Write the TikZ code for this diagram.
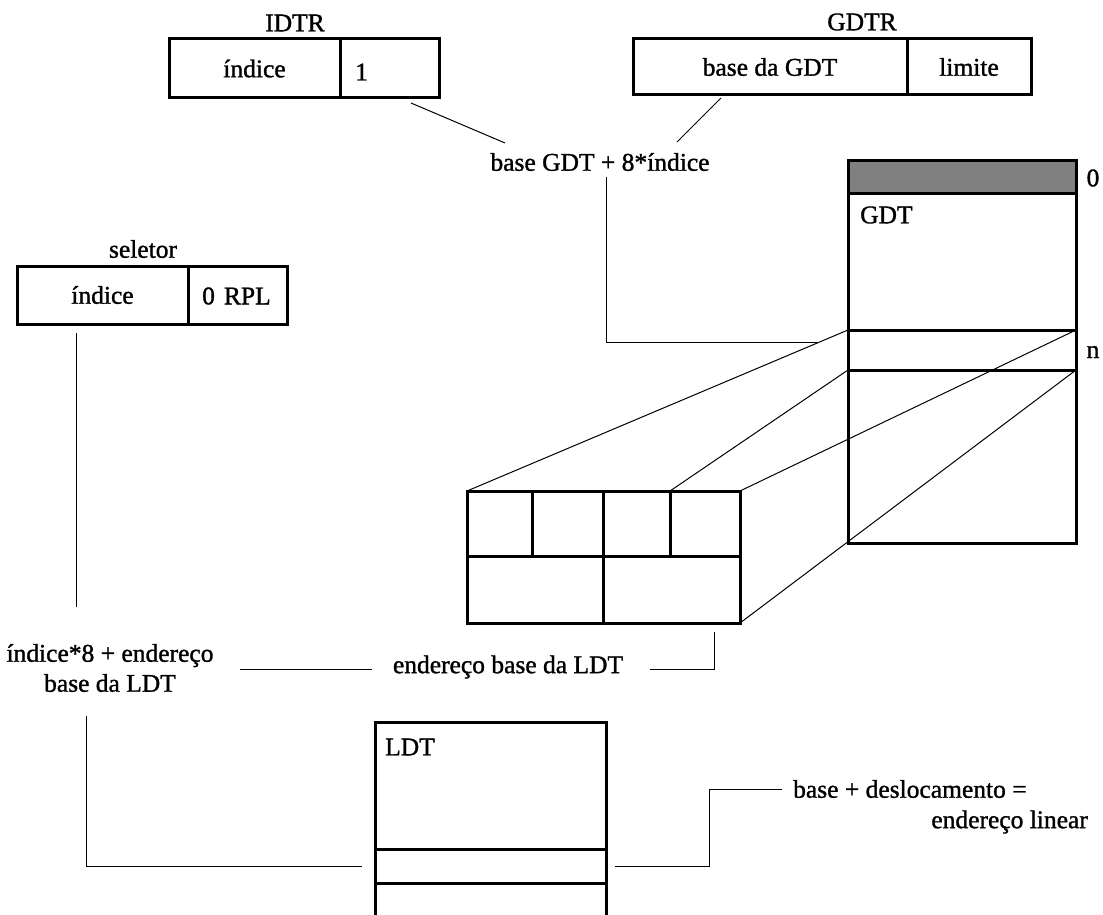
\documentclass[tikz,border=0pt]{standalone}
\usepackage{fontspec}
\setmainfont{Liberation Serif}[FakeBold=1.2]
\usepackage{tikz}
\usetikzlibrary{positioning, calc}
\definecolor{shade}{RGB}{128,128,128}
\tikzset{
  cell/.style ={rectangle, draw=black, line width=3pt, inner sep=0pt, outer sep=0pt,
                anchor=north west, font=\fontsize{25.5}{30}\selectfont},
  shadecell/.style={cell, fill=shade},
  lbl/.style  ={inner sep=0pt, align=center, font=\fontsize{25.5}{30}\selectfont},
  wire/.style ={draw=black, line width=1pt},
}

\begin{document}
\begin{tikzpicture}[x=1pt, y=-1pt]
\useasboundingbox (0,0) rectangle (1103,915);
% registers
\node[lbl] (idtrName) at (295,23) {IDTR};
\node[cell, minimum width=171pt, minimum height=59pt] (idtrIdx) at (169,39) {índice};
\node[cell, minimum width=99pt, minimum height=59pt] (idtrVal) at (340,39) {};
\node[lbl, anchor=west] (idtrOne) at (355,72) {1};
\node[lbl] (gdtrName) at (862,22) {GDTR};
\node[cell, minimum width=274pt, minimum height=56pt] (gdtrBase) at (633,39) {base da GDT};
\node[cell, minimum width=124pt, minimum height=56pt] (gdtrLim) at (907,39) {limite};
\node[lbl] (sumGdt) at (600,162) {base GDT + 8*índice};
\coordinate (idtrFoot) at (411,103);
\coordinate (sumLeft) at (505,143);
\coordinate (gdtrFoot) at (721,98);
\coordinate (sumRight) at (677,142);
\draw[wire] (idtrFoot) -- (sumLeft);
\draw[wire] (gdtrFoot) -- (sumRight);

% selector
\node[lbl] (selName) at (143,249) {seletor};
\node[cell, minimum width=171pt, minimum height=58pt] (selIdx) at (17,266) {índice};
\node[cell, minimum width=99pt, minimum height=58pt] (selRpl) at (188,266) {};
\node[lbl, anchor=west] (selRplTxt) at (202,296) {0\hspace{9pt}RPL};

% GDT
\node[cell, minimum width=228pt, minimum height=382pt] (gdt) at (848,161) {};
\node[shadecell, minimum width=228pt, minimum height=32pt] (gdtZero) at (848,161) {};
\node[cell, minimum width=228pt, minimum height=40pt] (gdtN) at (848,330) {};
\node[lbl, anchor=west] (gdtName) at (860,215) {GDT};
\node[lbl] (zeroTxt) at (1093,178) {0};
\node[lbl] (nTxt) at (1093,352) {n};

% descriptor
\node[cell, minimum width=65pt, minimum height=65pt] (dA) at (467,491) {};
\node[cell, minimum width=71pt, minimum height=65pt] (dB) at (532,491) {};
\node[cell, minimum width=67pt, minimum height=65pt] (dC) at (603,491) {};
\node[cell, minimum width=70pt, minimum height=65pt] (dD) at (670,491) {};
\node[cell, minimum width=136pt, minimum height=67pt] (dE) at (467,556) {};
\node[cell, minimum width=137pt, minimum height=67pt] (dF) at (603,556) {};
\draw[wire] (dA.north west) -- (gdtN.north west);
\draw[wire] (dD.north west) -- (gdtN.south west);
\draw[wire] (dD.north east) -- (gdtN.north east);
\draw[wire] (dF.south east) -- (gdtN.south east);
\coordinate (sumFoot) at (606,177);
\coordinate (diagHit) at (817,342);
\draw[wire] (sumFoot) |- (diagHit);

% address of the LDT
\coordinate (selFoot) at (76,333);
\coordinate (selEnd) at (76,607);
\draw[wire] (selFoot) -- (selEnd);
\node[lbl] (idxSum) at (110,668) {índice*8 + endereço\\base da LDT};
\node[lbl] (ldtAddr) at (508,667) {endereço base da LDT};
\draw[wire] (240,669) -- (372,669);
\coordinate (descFoot) at (714,632);
\draw[wire] (650,669) -| (descFoot);

% LDT
\node[cell, minimum width=231pt, minimum height=240pt] (ldt) at (375,722) {};
\node[cell, minimum width=231pt, minimum height=34pt] (ldtRow) at (375,849) {};
\node[lbl, anchor=west] (ldtName) at (385,747) {LDT};
\coordinate (idxFoot) at (86,716);
\draw[wire] (idxFoot) |- ([xshift=-13pt]ldtRow.west);
\node[lbl, anchor=west] (linA) at (793,789) {base + deslocamento =};
\node[lbl, anchor=east] (linB) at (1088,822) {endereço linear};
\coordinate (bend) at (709,789);
\draw[wire] ([xshift=9pt]ldtRow.east) -| (bend) -- ([xshift=-11pt]linA.west);
\end{tikzpicture}
\end{document}
